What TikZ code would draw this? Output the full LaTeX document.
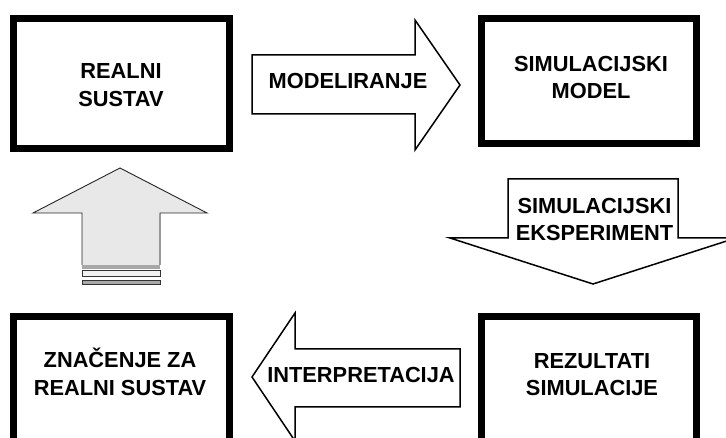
\documentclass[tikz,border=0pt]{standalone}
\usepackage{fontspec}
\setmainfont{Liberation Sans}
\definecolor{arrowgray}{HTML}{E8E8E8}
\definecolor{bandgray}{HTML}{A8A8A8}
\begin{document}
\begin{tikzpicture}[x=1pt, y=-1pt,
    sysbox/.style={line width=7pt},
    blockarrow/.style={line width=1.5pt, line join=miter, fill=white},
    lbl/.style={inner sep=0pt, align=center, font=\bfseries\fontsize{21.8}{27.5}\selectfont}]
    \useasboundingbox (0,0) rectangle (726,438);
    \clip (0,0) rectangle (726,438);
    % boxes
    \draw[sysbox] (13.5,18.5) rectangle (229.5,148.5);
    \draw[sysbox] (481.5,18.5) rectangle (696.5,143.5);
    \draw[sysbox] (13.5,316.5) rectangle (229.5,460);
    \draw[sysbox] (481.5,316.5) rectangle (696.5,460);
    % block arrows
    \draw[blockarrow] (252,55) -- (415,55) -- (415,20) -- (460,85) -- (415,150) -- (415,114) -- (252,114) -- cycle;
    \draw[blockarrow] (508,179) -- (678,179) -- (678,238) -- (736,238) -- (593,284) -- (450,238) -- (508,238) -- cycle;
    \draw[blockarrow] (460,349) -- (460,407) -- (295,407) -- (295,441) -- (252,377) -- (295,313) -- (295,349) -- cycle;
    % grey arrow back to the real system
    \draw[fill=arrowgray, line width=0.9pt, draw=black!85] (82,265) -- (82,213) -- (33,213) -- (120,168) -- (207,213) -- (160,213) -- (160,265);
    \draw[black!40, line width=2pt] (160,214) -- (160,265);
    \fill[bandgray] (82,265) rectangle (160,269);
    \draw[black!80, line width=0.8pt, fill=arrowgray!60] (82,270.5) rectangle (160,276.5);
    \draw[black!80, line width=0.8pt, fill=bandgray] (82,280.5) rectangle (160,284.5);
    % labels
    \node[lbl] (realni) at (121,85) {REALNI\\SUSTAV};
    \node[lbl] (model) at (591,77.5) {SIMULACIJSKI\\MODEL};
    \node[lbl] (znacenje) at (120,372) {ZNAČENJE ZA\\REALNI SUSTAV};
    \node[lbl] (rezultati) at (592,374.5) {REZULTATI\\SIMULACIJE};
    \node[lbl] (modeliranje) at (348,80.5) {MODELIRANJE};
    \node[lbl] (eksperiment) at (594.5,219.5) {SIMULACIJSKI\\EKSPERIMENT};
    \node[lbl] (interpretacija) at (361,375) {INTERPRETACIJA};
\end{tikzpicture}
\end{document}
